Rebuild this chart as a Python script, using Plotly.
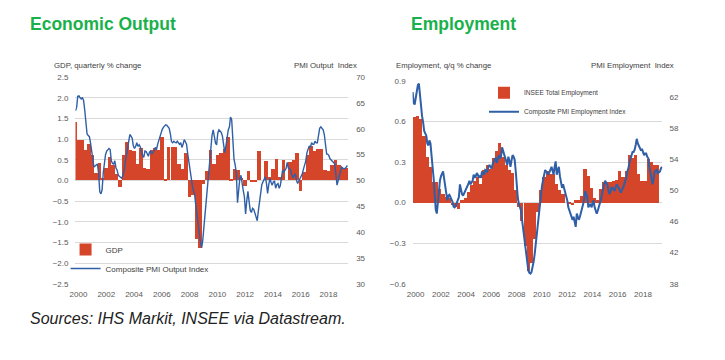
import pandas as pd
import plotly.graph_objects as go

# ---------------- data ----------------
# GDP, quarterly % change, 2000Q1 .. 2019Q3
gdp_growth = [
    1.40, 0.98, 0.98, 0.73,
    0.87, 0.60, 0.18, 0.42,
    0.06, 0.30, 0.57, 0.38,
    0.14, -0.17, 0.60, 0.93,
    0.73, 0.70, 0.40, 0.77,
    0.30, 0.26, 0.73, 0.77,
    0.73, 1.05, 0.02, 0.81,
    0.81, 0.81, 0.40, 0.26,
    0.65, -0.40, -0.35, -1.43,
    -1.63, -0.08, 0.22, 0.73,
    0.40, 0.60, 0.65, 0.76,
    1.05, 0.02, 0.28, 0.25,
    0.05, -0.15, 0.22, -0.05,
    -0.03, 0.72, 0.00, 0.46,
    0.08, 0.28, 0.52, 0.08,
    0.50, 0.00, 0.44, 0.48,
    0.65, -0.27, 0.20, 0.60,
    0.83, 0.72, 0.76, 0.76,
    0.24, 0.22, 0.38, 0.48,
    0.36, 0.30, 0.30,
]

# Composite PMI Output Index, monthly, Jan 2000 .. Aug 2019
pmi_output = [
    63.5, 64.2, 66.3, 66.4, 66.0, 65.8, 66.1, 65.5, 63.6, 61.0, 59.0, 58.7,
    58.5, 57.2, 56.0, 54.2, 52.6, 52.8, 53.0, 53.2, 51.3, 47.8, 47.4, 48.2,
    51.5, 53.6, 55.0, 55.7, 56.0, 56.2, 56.0, 53.8, 53.3, 53.2, 53.8, 52.4,
    52.0, 51.0, 50.8, 50.6, 50.4, 51.0, 51.8, 53.5, 55.0, 56.2, 57.6, 58.9,
    58.6, 58.2, 56.7, 56.2, 56.6, 57.3, 56.6, 56.9, 56.5, 55.4, 54.8, 54.5,
    55.7, 55.6, 55.2, 54.7, 55.5, 55.7, 55.1, 55.4, 55.8, 56.4, 56.0, 57.0,
    57.8, 58.9, 59.5, 59.9, 60.3, 60.6, 60.8, 60.7, 60.4, 60.1, 59.0, 57.5,
    57.3, 57.6, 57.4, 57.3, 57.6, 57.2, 57.0, 57.3, 56.4, 57.0, 57.9, 57.5,
    57.0, 55.1, 53.5, 52.0, 50.4, 49.0, 48.0, 47.2, 45.0, 43.0, 41.0, 39.7,
    38.0, 37.0, 38.4, 41.0, 43.5, 46.6, 49.5, 51.5, 55.0, 57.5, 58.8, 59.8,
    58.6, 57.2, 56.9, 59.2, 59.8, 59.6, 59.3, 58.6, 57.0, 55.4, 56.7, 58.5,
    59.8, 60.4, 62.3, 61.8, 57.6, 54.2, 53.0, 51.5, 45.7, 49.0, 50.4, 51.0,
    49.0, 48.0, 46.8, 43.5, 46.0, 47.9, 46.0, 44.2, 43.8, 44.6, 44.4, 43.5,
    42.8, 42.2, 44.0, 45.5, 47.9, 49.2, 49.7, 50.4, 50.7, 49.5, 47.5, 49.2,
    50.4, 49.6, 49.1, 49.7, 49.9, 48.5, 49.2, 49.4, 48.5, 49.0, 50.4, 52.0,
    51.6, 52.0, 52.3, 53.5, 52.4, 52.3, 52.0, 51.0, 50.5, 51.0, 51.3, 50.0,
    49.4, 49.9, 50.4, 51.0, 51.3, 52.2, 52.9, 53.8, 55.4, 56.0, 56.7, 56.4,
    57.3, 57.0, 57.0, 57.6, 57.3, 57.3, 58.9, 60.1, 60.4, 60.0, 59.8, 58.9,
    57.0, 55.1, 55.1, 54.8, 54.2, 54.0, 53.8, 53.5, 53.2, 50.5, 49.1, 50.0,
    51.0, 51.6, 52.6, 52.4, 52.3, 52.3, 52.6, 52.9,
]

# INSEE Total Employment, q/q % change, 2000Q1 .. 2019Q2
employment_growth = [
    0.63, 0.64, 0.62, 0.49,
    0.34, 0.26, 0.15, 0.15,
    0.10, 0.06, 0.04, 0.03,
    -0.02, -0.03, -0.05, 0.02,
    0.03, 0.08, 0.13, 0.16,
    0.19, 0.14, 0.24, 0.28,
    0.25, 0.33, 0.38, 0.44,
    0.34, 0.28, 0.24, 0.22,
    0.09, -0.03, -0.14, -0.32,
    -0.51, -0.45, -0.27, -0.07,
    0.09, 0.19, 0.23, 0.21,
    0.21, 0.14, 0.09, 0.06,
    0.00, -0.01, -0.02, 0.02,
    0.02, 0.05, 0.25, 0.20,
    0.11, 0.03, 0.02, 0.10,
    0.15, 0.15, 0.15, 0.16,
    0.17, 0.23, 0.19, 0.23,
    0.35, 0.33, 0.35, 0.21,
    0.16, 0.16, 0.32, 0.30,
    0.28, 0.28,
]

# Composite PMI Employment Index, monthly, Jan 2000 .. Oct 2019
pmi_employment = [
    62.6, 61.2, 61.0, 61.8, 62.8, 63.5, 63.7, 62.0, 60.3, 59.5, 58.7, 57.6,
    57.3, 57.0, 56.0, 55.75, 56.4, 56.0, 54.5, 53.2, 51.5, 49.5, 47.5, 47.0,
    48.5, 50.0, 51.2, 51.8, 52.2, 52.4, 51.5, 50.3, 49.2, 48.7, 49.3, 49.4,
    49.1, 48.8, 48.5, 47.9, 47.8, 48.0, 48.4, 48.8, 49.1, 50.75, 50.0, 49.5,
    49.3, 49.6, 49.9, 50.1, 50.3, 50.8, 51.2, 50.75, 51.0, 51.2, 52.0, 51.6,
    51.8, 52.2, 52.0, 51.6, 51.8, 51.6, 52.4, 52.2, 52.0, 52.6, 52.5, 52.4,
    53.0, 53.25, 53.0, 52.8, 53.3, 53.7, 54.0, 54.1, 53.5, 53.9, 54.5, 54.1,
    54.3, 55.5, 55.0, 54.5, 54.1, 53.7, 53.25, 54.3, 53.8, 53.0, 53.8, 54.5,
    54.3, 53.9, 52.5, 50.3, 49.0, 48.25, 47.6, 47.4, 46.2, 45.0, 44.2, 42.8,
    41.5, 40.2, 39.7, 39.4, 39.3, 39.5, 40.0, 40.8, 41.8, 43.0, 44.2, 45.8,
    47.4, 48.7, 49.6, 50.6, 51.3, 52.0, 52.6, 52.4, 52.2, 52.0, 52.3, 52.6,
    53.0, 52.5, 52.0, 53.0, 53.7, 52.0, 52.5, 53.0, 51.8, 51.2, 50.3, 50.75,
    50.2, 49.9, 49.2, 48.7, 47.8, 47.4, 47.0, 46.5, 46.2, 46.6, 46.0, 45.3,
    47.0, 46.4, 46.2, 46.6, 47.2, 47.8, 48.3, 48.7, 49.9, 49.5, 49.1, 47.8,
    48.0, 48.25, 47.8, 48.3, 48.7, 47.8, 47.4, 47.0, 47.4, 47.8, 48.5, 48.8,
    49.5, 50.3, 50.8, 51.2, 51.0, 50.75, 50.1, 49.5, 49.8, 50.3, 50.3, 50.1,
    49.9, 50.4, 50.75, 50.5, 50.3, 49.9, 49.7, 50.1, 50.3, 50.75, 51.2, 51.6,
    52.4, 52.8, 53.5, 54.1, 54.5, 54.9, 54.9, 55.2, 55.8, 56.6, 56.0, 55.75,
    55.5, 55.1, 55.3, 54.9, 54.5, 54.7, 54.7, 54.3, 54.1, 53.0, 52.0, 51.2,
    50.75, 51.5, 52.4, 52.5, 52.6, 52.2, 52.3, 52.4, 52.8, 53.0,
]

gdp_dates = pd.date_range("2000-01-01", periods=len(gdp_growth), freq="QS")
pmi_out_dates = pd.date_range("2000-01-01", periods=len(pmi_output), freq="MS")
emp_dates = pd.date_range("2000-01-01", periods=len(employment_growth), freq="QS")
pmi_emp_dates = pd.date_range("2000-01-01", periods=len(pmi_employment), freq="MS")

# ---------------- styling ----------------
PAGE_OFF = 8            # default page margin around the figure
W, H = 725 - 2 * PAGE_OFF, 360 - 2 * PAGE_OFF
RED = "#d5452a"
BLUE = "#2f5fa6"
GRID = "#d9d9d9"
TICK = "#595959"
FONT = "Liberation Sans, Arial, sans-serif"
GREEN = "#19b14b"
QUARTER_MS = 91 * 24 * 3600 * 1000


def fx(px):
    return (px - PAGE_OFF) / W


def fy(py):
    return 1 - (py - PAGE_OFF) / H


fig = go.Figure()

fig.add_trace(go.Bar(
    x=gdp_dates, y=gdp_growth, width=QUARTER_MS, name="GDP",
    marker=dict(color=RED, line=dict(width=0)),
    xaxis="x", yaxis="y", legend="legend",
))
fig.add_trace(go.Scatter(
    x=pmi_out_dates, y=pmi_output, mode="lines",
    name="Composite PMI Output Index",
    line=dict(color=BLUE, width=1.4),
    xaxis="x", yaxis="y2", legend="legend",
))
fig.add_trace(go.Bar(
    x=emp_dates, y=employment_growth, width=QUARTER_MS,
    xperiod="M3", xperiod0="2000-01-01", xperiodalignment="middle",
    name="INSEE Total Employment",
    marker=dict(color=RED, line=dict(width=0)),
    xaxis="x2", yaxis="y3", legend="legend2",
))
fig.add_trace(go.Scatter(
    x=pmi_emp_dates, y=pmi_employment, mode="lines",
    name="Composite PMI Employment Index",
    line=dict(color=BLUE, width=2),
    xaxis="x2", yaxis="y4", legend="legend2",
))

tickfont = dict(family=FONT, size=8, color=TICK)
xcommon = dict(type="date", tickformat="%Y", dtick="M24", tick0="2000-01-01",
               showgrid=False, zeroline=False, showline=False, ticks="",
               tickfont=tickfont, ticklabelstandoff=4, ticklabelshift=3,
               fixedrange=True)

left_dom_y = [fy(287), fy(75)]
right_dom_y = [fy(287), fy(79)]

fig.update_layout(
    width=W, height=H,
    margin=dict(l=0, r=0, t=0, b=0),
    paper_bgcolor="white", plot_bgcolor="white",
    barmode="overlay", bargap=0,
    font=dict(family=FONT, color="#404040"),
    xaxis=dict(domain=[fx(70), fx(345)], anchor="y",
               range=["2000-01-01", "2019-08-20"], **xcommon),
    yaxis=dict(domain=left_dom_y, anchor="x", range=[-2.5, 2.5], dtick=0.5,
               tick0=0, tickformat=".1f", showgrid=True, gridcolor=GRID,
               gridwidth=1, zeroline=False, showline=False, ticks="",
               tickfont=tickfont, ticklabelstandoff=6),
    yaxis2=dict(overlaying="y", side="right", anchor="x", range=[30, 70],
                dtick=5, tick0=30, showgrid=False, zeroline=False,
                showline=False, ticks="", tickfont=tickfont,
                ticklabelstandoff=7),
    xaxis2=dict(domain=[fx(410), fx(662)], anchor="y3",
                range=["2000-01-01", "2019-10-15"], **xcommon),
    yaxis3=dict(domain=right_dom_y, anchor="x2", range=[-0.6, 0.9],
                dtick=0.3, tick0=0, tickformat=".1f", showgrid=True,
                gridcolor=GRID, gridwidth=1, zeroline=False, showline=False,
                ticks="", tickfont=tickfont, ticklabelstandoff=6),
    yaxis4=dict(overlaying="y3", side="right", anchor="x2", range=[38, 64],
                tickvals=[38, 42, 46, 50, 54, 58, 62], showgrid=False,
                zeroline=False, showline=False, ticks="", tickfont=tickfont,
                ticklabelstandoff=6),
    legend=dict(x=fx(60), y=fy(237), xanchor="left", yanchor="top",
                bgcolor="rgba(0,0,0,0)", itemwidth=30, tracegroupgap=0,
                font=dict(family=FONT, size=8, color="#404040"),
                traceorder="normal"),
    legend2=dict(x=fx(482), y=fy(76), xanchor="left", yanchor="top",
                 bgcolor="rgba(0,0,0,0)", itemwidth=30, tracegroupgap=0,
                 font=dict(family=FONT, size=6.6, color="#404040"),
                 traceorder="normal"),
    showlegend=True,
)

ann = []


def text(x, y, s, size, color="#404040", xanchor="left", bold=False,
         italic=False):
    if bold:
        s = "<b>" + s + "</b>"
    if italic:
        s = "<i>" + s + "</i>"
    ann.append(dict(x=fx(x), y=fy(y), xref="paper", yref="paper", text=s,
                    showarrow=False, xanchor=xanchor, yanchor="middle",
                    font=dict(family=FONT, size=size, color=color)))


text(22, 20, "Economic Output", 17.5, GREEN, bold=True)
text(406, 20, "Employment", 17.5, GREEN, bold=True)
text(46, 63, "GDP, quarterly % change", 7.8)
text(356, 63, "PMI Output  Index", 7.8, xanchor="right")
text(391, 63, "Employment, q/q % change", 7.8)
text(676, 63, "PMI Employment  Index", 7.8, xanchor="right")
text(22, 323, "Sources: IHS Markit, INSEE via Datastream.", 16, "#222222",
     italic=True)

fig.update_layout(annotations=ann)

fig.write_html("out.html")
